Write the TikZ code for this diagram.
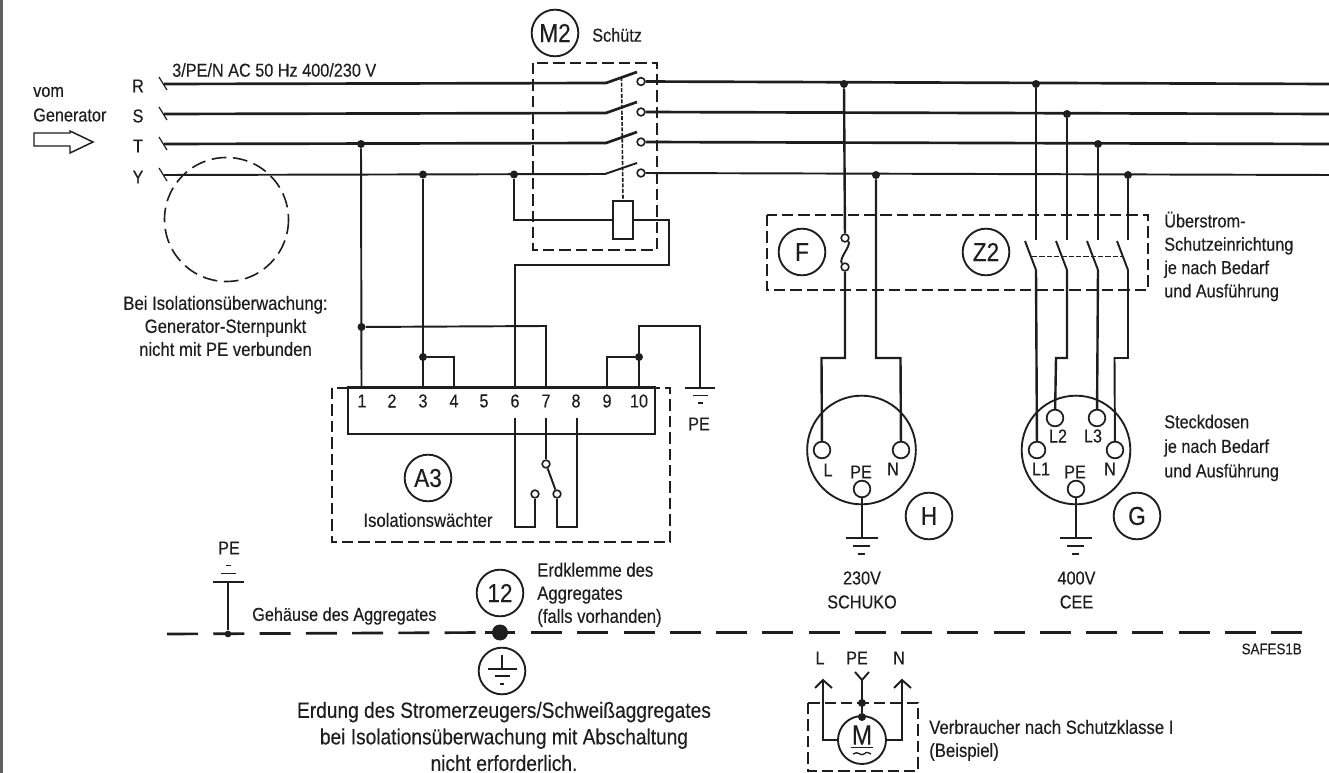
\documentclass[tikz,border=0pt]{standalone}
\usepackage{fontspec}
\setmainfont[FakeStretch=0.87,FakeBold=0.25]{Liberation Sans}
\usetikzlibrary{calc}
\definecolor{ink}{HTML}{1E1E1E}
\tikzset{
  wire/.style={draw=ink,line width=1.45pt,line join=miter},
  bus/.style={draw=ink,line width=2pt},
  thickw/.style={draw=ink,line width=1.8pt},
  thin/.style={draw=ink,line width=0.9pt},
  dbox/.style={draw=ink,line width=1.5pt,dash pattern=on 8.5pt off 3.8pt},
  dgen/.style={draw=ink,line width=1.2pt,dash pattern=on 11pt off 5pt},
  dlink/.style={draw=ink,line width=1.2pt,dash pattern=on 3pt off 1.2pt},
  dearth/.style={draw=ink,line width=2pt,dash pattern=on 23.25pt off 11.44pt},
  lab/.style={text=ink,inner sep=0pt,font=\fontsize{14}{16}\selectfont},
  labl/.style={lab,anchor=west},
  labw/.style={text=ink,inner sep=0pt,font=\fontsize{14.4}{16}\selectfont},
  biglab/.style={text=ink,inner sep=0pt,font=\fontsize{16.5}{18}\selectfont},
  callout/.style={circle,draw=ink,line width=1.4pt,minimum size=35pt,inner sep=0pt,text=ink,font=\fontsize{19.5}{21}\selectfont},
  term/.style={circle,draw=ink,line width=1.2pt,fill=white,minimum size=5.8pt,inner sep=0pt},
  sock/.style={circle,draw=ink,line width=1.3pt,fill=white,minimum size=12.5pt,inner sep=0pt},
  jdot/.style={circle,fill=ink,minimum size=6pt,inner sep=0pt},
  plug/.style={circle,draw=ink,line width=1.4pt,minimum size=81.5pt,inner sep=0pt},
}
\begin{document}
\begin{tikzpicture}[x=0.75pt,y=-0.75pt]
\useasboundingbox (0,0) rectangle (1329,773);
\fill[white] (0,0) rectangle (1329,773);
\draw[draw=ink!70,line width=2.2pt] (1.5,0) -- (1.5,773);

% ---------- left text
\node[labl] (vom) at (33,92) {vom};
\node[labl] (gen) at (33,115) {Generator};
\node[lab] (lR) at (138,86) {R};
\node[lab] (lS) at (138,116) {S};
\node[lab] (lT) at (138,146) {T};
\node[lab] (lY) at (138,177) {Y};
\node[labl] (mains) at (172,70) {3/PE/N AC 50 Hz 400/230 V};
\draw[draw=ink,line width=1.1pt] (34,133) -- (70,133) -- (70,131) -- (93,142) -- (70,153) -- (70,146) -- (34,146) -- cycle;

% ---------- buses
\coordinate (Rin) at (164,84); \coordinate (Sin) at (164,114);
\coordinate (Tin) at (164,144); \coordinate (Yin) at (164,175);
\draw[thin] (159,77) -- (167,90); \draw[thin] (159,107) -- (167,120);
\draw[thin] (159,137) -- (167,150); \draw[thin] (159,168) -- (167,181);

\coordinate (Rb) at (606,83); \coordinate (Sb) at (606,113);
\coordinate (Tb) at (606,143); \coordinate (Yb) at (605,174);
\node[term] (Rc) at (641,81.5) {}; \node[term] (Sc) at (641,112) {};
\node[term] (Tc) at (641,142) {}; \node[term] (Yc) at (641,173) {};
\coordinate (Rout) at (1329,84); \coordinate (Sout) at (1329,114);
\coordinate (Tout) at (1329,144); \coordinate (Yout) at (1329,175);

\draw[bus] (Rin) -- (Rb) -- (637,72);
\draw[bus] (Sin) -- (Sb) -- (637,102);
\draw[bus] (Tin) -- (Tb) -- (637,132);
\draw[wire] (Yin) -- (Yb) -- (637,163);
\draw[bus] (Rc) -- (Rout); \draw[bus] (Sc) -- (Sout);
\draw[bus] (Tc) -- (Tout); \draw[wire] (Yc) -- (Yout);

% ---------- contactor
\node[callout] (M2) at (555,33) {M2};
\node[labl] (schuetz) at (592,35) {Schütz};
\draw[dbox] (533,63) rectangle (657,250);
\node[draw=ink,line width=1.3pt,fill=white,minimum width=15pt,minimum height=28.5pt,inner sep=0pt] (coil) at (623,220) {};
\draw[dlink] (621.5,77) -- (coil.north);
\node[jdot] (jY1) at (514,174.5) {};
\draw[wire] (jY1) |- (coil.west);
\coordinate (c1) at (669,220); \coordinate (c2) at (669,265);
\coordinate (t6) at (515,387);
\draw[wire] (coil.east) -- (c1) -- (c2) -- (515,265) -- (t6);

% ---------- generator circle
\draw[dgen] (226.5,219.5) circle [radius=62];
\node[labw,align=center] (bei) at (225.5,326) {Bei Isolationsüberwachung:\\[1.3pt]Generator-Sternpunkt\\[1.3pt]nicht mit PE verbunden};

% ---------- isolation monitor
\draw[dbox] (332,388) rectangle (670,542);
\node[draw=ink,line width=1.3pt,fill=white,minimum width=230.5pt,minimum height=34.5pt,inner sep=0pt] (block) at (501.5,411) {};
\draw[draw=ink,line width=1.6pt] (block.north west) -- (block.north east);
\foreach \n/\x in {1/362,2/392,3/423,4/454,5/484,6/515,7/546,8/576,9/607,10/639}{
  \node[lab] (n\n) at (\x,401) {\n};
  \coordinate (t\n) at (\x,387.5);
}
\node[jdot] (jT) at (361,144) {};
\node[jdot] (jY2) at (423,174.5) {};
\node[jdot] (j1) at (361.5,327) {};
\node[jdot] (j3) at (423,357) {};
\node[jdot] (j10) at (639,357) {};
\draw[wire] (jT) -- (361.5,387.5);
\draw[wire] (jY2) -- (t3);
\draw[wire] (j1) -- (546,326) -- (t7);
\draw[wire] (j3) -- (454,357) -- (t4);
\draw[wire] (t9) |- (j10);
\draw[wire] (t10) -- (639,326) -- (700,326) -- (700,387.5);
% ground at monitor
\coordinate (gPE) at (700,388);
\draw[wire] (685,388) -- (715,388);
\draw[wire] (693,395.5) -- (708,395.5);
\draw[wire] (698,403) -- (703,403);
\node[lab] (pe1) at (699,424) {PE};
% relay contact
\node[term] (k7) at (546,464) {};
\node[term] (k6) at (535,494) {};
\node[term] (k8) at (557,494) {};
\draw[wire] (515,418) -- (515,527) -- (535,527) -- (k6);
\draw[wire] (546,418) -- (k7);
\draw[wire] (k7) -- (k8);
\draw[wire] (k8) -- (557,527) -- (577,527) -- (577,418);
\node[callout] (A3) at (428,478) {A3};
\node[labw] (isol) at (428,520) {Isolationswächter};

% ---------- over-current box
\draw[dbox] (767,215) rectangle (1148,290);
\node[callout] (F) at (802,252) {F};
\node[callout] (Z2) at (986,252) {Z2};

% ---------- Schuko socket
\node[plug] (H0) at (861.5,450) {};
\node[sock] (sL) at (822,450) {};
\node[sock] (sN) at (901,450) {};
\node[sock] (sPE) at (862,489) {};
\node[jdot] (jRs) at (844,84) {};
\node[jdot] (jYs) at (876,175) {};
\node[term] (f1) at (845,238) {};
\node[term] (f2) at (845,267) {};
\draw[thickw] (jRs) -- (f1);
\draw[wire] (f1) .. controls (852,245) and (838,259) .. (f2);
\draw[thickw] (f2) -- (845,358) -- (821.5,358) -- (sL);
\draw[thickw] (jYs) -- (876,358) -- (900.5,358) -- (sN);
\node[lab] (sLl) at (828,470) {L};
\node[lab] (sPEl) at (861,472) {PE};
\node[lab] (sNl) at (893,469) {N};
\draw[wire] (sPE) -- (862,538);
\draw[wire] (846,538) -- (878,538);
\draw[wire] (853,546) -- (870,546);
\draw[wire] (858,554) -- (865,554);
\node[callout] (H) at (929,516) {H};
\node[lab,align=center] (schuko) at (862,590) {230V\\[2pt]SCHUKO};

% ---------- CEE socket
\node[plug] (G0) at (1076,450) {};
\node[sock] (cL1) at (1037,450) {};
\node[sock] (cL2) at (1055,418) {};
\node[sock] (cL3) at (1097,418) {};
\node[sock] (cN) at (1115,450) {};
\node[sock] (cPE) at (1076,489) {};
\node[lab] (cL2l) at (1058,436) {L2};
\node[lab] (cL3l) at (1093,436) {L3};
\node[lab] (cL1l) at (1041,469) {L1};
\node[lab] (cPEl) at (1075,472) {PE};
\node[lab] (cNl) at (1110,469) {N};
\node[jdot] (jR) at (1036,84) {};
\node[jdot] (jS) at (1067,114) {};
\node[jdot] (jT2) at (1098,144) {};
\node[jdot] (jY3) at (1128,175) {};
\draw[thickw] (jR) -- (1036,240);
\draw[thickw] (jS) -- (1067,240);
\draw[thickw] (jT2) -- (1098,240);
\draw[wire] (jY3) -- (1128,240);
\draw[wire] (1025,241) -- (1036,270);
\draw[wire] (1056,241) -- (1067,270);
\draw[wire] (1087,241) -- (1098,270);
\draw[wire] (1117,241) -- (1128,270);
\draw[thickw] (1036,270) -- (cL1);
\draw[thickw] (1067,270) -- (1067,358) -- (1056,358) -- (cL2);
\draw[thickw] (1098,270) -- (cL3);
\draw[wire] (1128,270) -- (1128,358) -- (1114.5,358) -- (cN);
\draw[draw=ink,line width=0.7pt,dash pattern=on 4pt off 1.5pt] (1032,256) -- (1122,256);
\draw[wire] (cPE) -- (1076,538);
\draw[wire] (1060,538) -- (1092,538);
\draw[wire] (1067,546) -- (1084,546);
\draw[wire] (1072,554) -- (1079,554);
\node[callout] (G) at (1137,516) {G};
\node[lab,align=center] (cee) at (1076.5,590) {400V\\[2pt]CEE};

% ---------- right text
\node[lab,anchor=north west,align=left] (ueber) at (1164,211.5) {Überstrom-\\[1.5pt]Schutzeinrichtung\\[1.5pt]je nach Bedarf\\[1.5pt]und Ausführung};
\node[lab,anchor=north west,align=left] (steck) at (1164,414.5) {Steckdosen\\[2.4pt]je nach Bedarf\\[2.4pt]und Ausführung};

% ---------- earth line
\draw[dearth] (167,634) -- (485,632.5);
\draw[dearth] (531,632.5) -- (1302,632.5);
\node[jdot,minimum size=5pt] (je) at (228,634) {};
\draw[wire] (je) -- (228,582);
\draw[wire] (213,582) -- (244,582);
\draw[wire] (221,573.5) -- (236,573.5);
\draw[wire] (226,565.5) -- (231,565.5);
\node[lab] (pe2) at (229,548) {PE};
\node[labl] (gehaeuse) at (252,616) {Gehäuse des Aggregates};
\node[jdot,minimum size=12pt] (je12) at (500,632.5) {};
\draw[draw=ink,line width=2pt] (485,632.5) -- (515,632.5);
\node[callout] (c12) at (500,593) {12};
\node[labw,anchor=north west,align=left] (erdkl) at (537,562.5) {Erdklemme des\\[1.3pt]Aggregates\\[1.3pt](falls vorhanden)};
\node[circle,draw=ink,line width=1.4pt,minimum size=35pt,inner sep=0pt] (eg) at (502,671) {};
\draw[wire] (502,655) -- (502,669);
\draw[wire] (488,669) -- (517,669);
\draw[wire] (495,676) -- (510,676);
\draw[wire] (500,684) -- (504,684);
\node[biglab,align=center] (erdung) at (504,736.5) {Erdung des Stromerzeugers/Schweißaggregates\\[1.9pt]bei Isolationsüberwachung mit Abschaltung\\[1.9pt]nicht erforderlich.};
\node[lab,anchor=east,font=\fontsize{11.5}{13}\selectfont] (safes) at (1302,649) {SAFES1B};

% ---------- motor
\node[lab] (mL) at (820,658) {L};
\node[lab] (mPE) at (857,658) {PE};
\node[lab] (mN) at (899,658) {N};
\draw[dbox] (808,703) rectangle (918,771);
\node[callout,minimum size=36pt] (M) at (862,740) {};
\node[text=ink,inner sep=0pt,font=\fontsize{21}{23}\selectfont] (Mt) at (862,735) {M};
\draw[draw=ink,line width=1pt] (851,747.5) -- (873,747.5);
\draw[draw=ink,line width=1pt] (853,754) .. controls (858,750) and (861,757) .. (864,754) .. controls (867,751) and (869,753) .. (871,754);
\node[jdot] (md1) at (862,703) {};
\node[jdot] (md2) at (862,717) {};
\coordinate (fork) at (862,680);
\draw[wire] (md2) -- (fork);
\draw[wire] (855,672) -- (fork) -- (869,672);
\draw[wire] (M.west) -- (823,740) -- (823,680);
\draw[wire] (815,688) -- (823,680) -- (832,688);
\draw[wire] (M.east) -- (902,740) -- (902,680);
\draw[wire] (894,688) -- (902,680) -- (911,688);
\node[labw,anchor=west] (verb) at (929,727) {Verbraucher nach Schutzklasse I};
\node[labw,anchor=west] (beisp) at (929,752) {(Beispiel)};
\end{tikzpicture}
\end{document}
